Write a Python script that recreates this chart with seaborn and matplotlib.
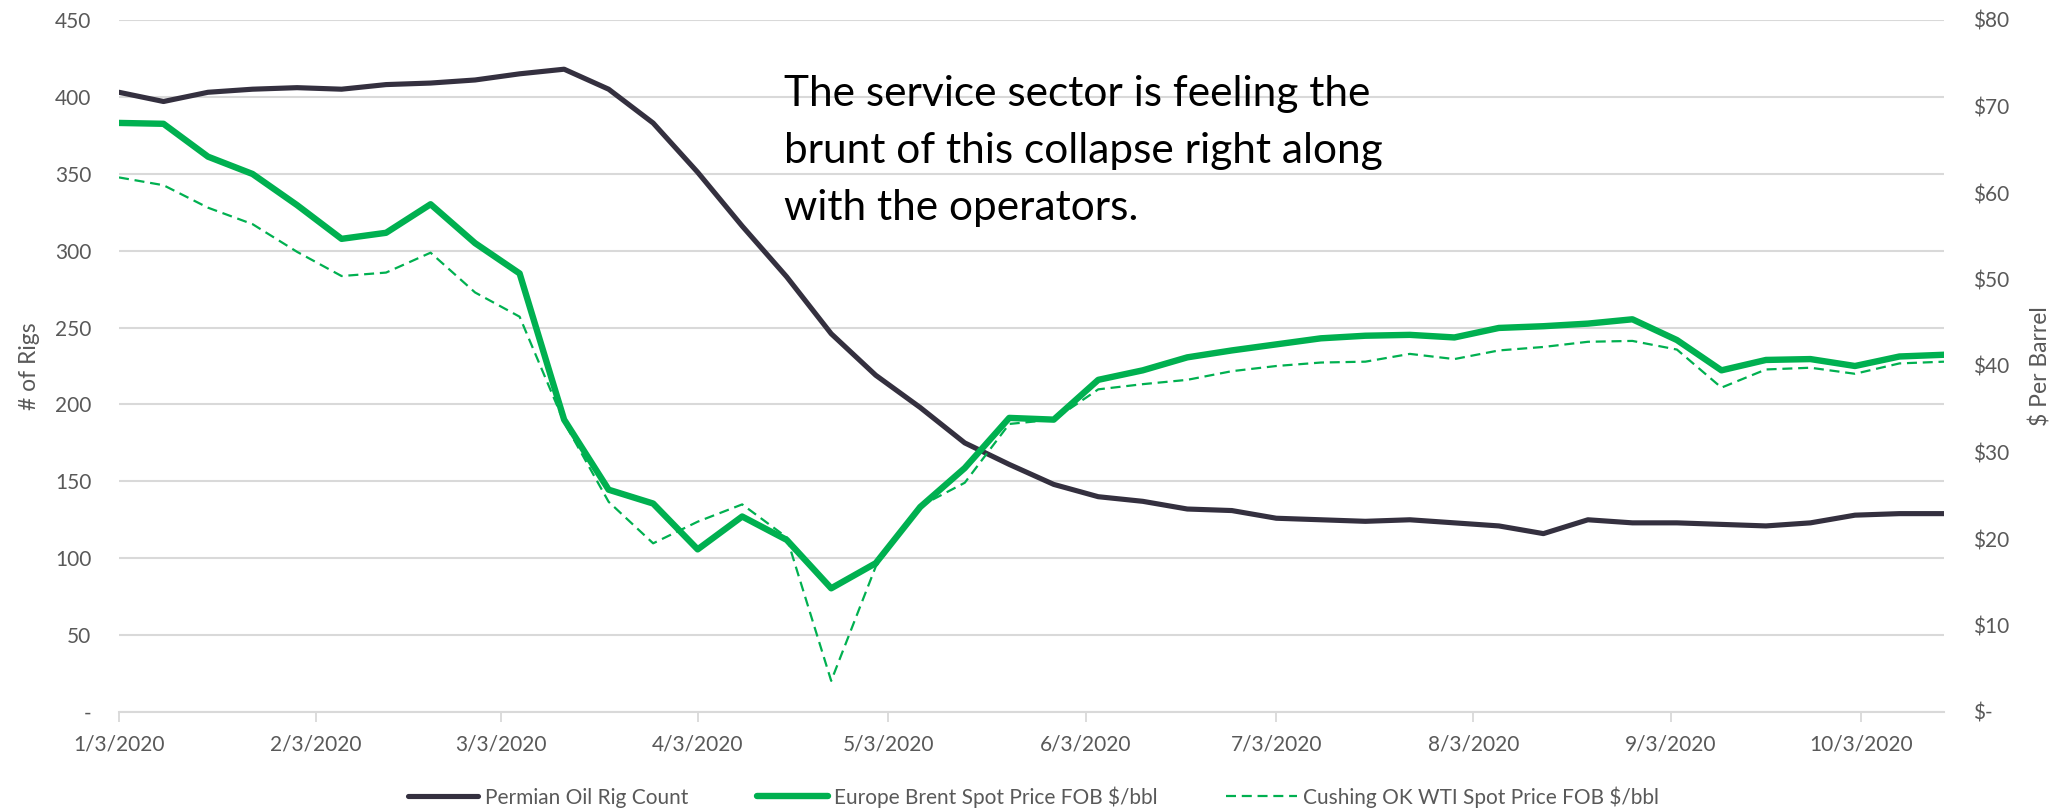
import matplotlib
matplotlib.use("Agg")
import matplotlib.pyplot as plt
import matplotlib.dates as mdates
from matplotlib.ticker import FixedLocator, FuncFormatter
import seaborn as sns
import pandas as pd

# ---------------- data (weekly) ----------------
first_week = "2020-01-03"
rig_count = [403, 397, 403, 405, 406, 405, 408, 409, 411, 415,
             418, 405, 383, 351, 316, 283, 246, 219, 198, 175,
             161, 148, 140, 137, 132, 131, 126, 125, 124, 125,
             123, 121, 116, 125, 123, 123, 122, 121, 123, 128,
             129, 129]
brent = [68.1, 68.0, 64.2, 62.2, 58.6, 54.7, 55.4, 58.7, 54.2, 50.7,
         33.8, 25.7, 24.1, 18.8, 22.6, 19.9, 14.3, 17.2, 23.7, 28.2,
         34.0, 33.8, 38.4, 39.5, 41.0, 41.8, 42.5, 43.2, 43.5, 43.6,
         43.3, 44.4, 44.6, 44.9, 45.4, 43.0, 39.5, 40.7, 40.8, 40.0,
         41.1, 41.3]
wti = [61.8, 60.9, 58.3, 56.4, 53.2, 50.4, 50.8, 53.1, 48.5, 45.7,
       33.5, 24.3, 19.5, 22.0, 24.0, 20.2, 3.6, 16.8, 23.8, 26.5,
       33.3, 33.8, 37.3, 37.9, 38.4, 39.4, 40.0, 40.4, 40.5, 41.4,
       40.8, 41.8, 42.2, 42.8, 42.9, 41.9, 37.5, 39.6, 39.8, 39.1,
       40.3, 40.5]
x_tick_labels = ["1/3/2020", "2/3/2020", "3/3/2020", "4/3/2020", "5/3/2020",
                 "6/3/2020", "7/3/2020", "8/3/2020", "9/3/2020", "10/3/2020"]
rig_ticks = [0, 50, 100, 150, 200, 250, 300, 350, 400, 450]
price_ticks = [0, 10, 20, 30, 40, 50, 60, 70, 80]
series_names = ["Permian Oil Rig Count",
                "Europe Brent Spot Price FOB $/bbl",
                "Cushing OK WTI Spot Price FOB $/bbl"]
annotation_lines = ["The service sector is feeling the",
                    "brunt of this collapse right along",
                    "with the operators."]

dates = pd.date_range(first_week, periods=len(rig_count), freq="7D")
df = pd.DataFrame({"date": dates, "rigs": rig_count,
                   "brent": brent, "wti": wti})

# ---------------- style ----------------
sns.set_theme(style="white")
plt.rcParams["font.family"] = ["Lato", "DejaVu Sans"]

DARK = "#34303F"
GREEN = "#00B050"
GRID = "#D9D9D9"
TXT = "#595959"
FS = 15

fig = plt.figure(figsize=(20.67, 8.10), dpi=100)
ax = fig.add_axes([119 / 2067, 1 - 712 / 810, (1944 - 119) / 2067, (712 - 20) / 810])
ax2 = ax.twinx()

sns.lineplot(data=df, x="date", y="rigs", ax=ax, color=DARK,
             linewidth=3.7, legend=False)
sns.lineplot(data=df, x="date", y="brent", ax=ax2, color=GREEN,
             linewidth=4.6, legend=False)
sns.lineplot(data=df, x="date", y="wti", ax=ax2, color=GREEN,
             linewidth=1.6, legend=False)
l_rig = ax.get_lines()[0]
l_brent, l_wti = ax2.get_lines()[0], ax2.get_lines()[1]
l_wti.set_dashes((4.5, 2.6))
for ln in (l_rig, l_brent):
    ln.set_solid_capstyle("round")

# axes limits
ax.set_xlim(dates[0], dates[-1])
ax.set_ylim(rig_ticks[0], rig_ticks[-1])
ax2.set_ylim(price_ticks[0], price_ticks[-1])

# x ticks
tick_dates = pd.to_datetime(x_tick_labels, format="%m/%d/%Y")
ax.xaxis.set_major_locator(FixedLocator(mdates.date2num(tick_dates)))
ax.set_xticklabels(x_tick_labels)
ax.tick_params(axis="x", length=7, width=1.3, color=GRID, direction="out",
               pad=9, labelsize=FS, labelcolor=TXT, bottom=True)

# left y
ax.yaxis.set_major_locator(FixedLocator(rig_ticks))
ax.yaxis.set_major_formatter(FuncFormatter(lambda v, p: "-" if v == 0 else f"{int(v)}"))
ax.tick_params(axis="y", length=0, pad=20, labelsize=FS, labelcolor=TXT)
ax.grid(axis="y", color=GRID, linewidth=1.5)
ax.grid(axis="x", visible=False)

# right y
ax2.yaxis.set_major_locator(FixedLocator(price_ticks))
ax2.yaxis.set_major_formatter(FuncFormatter(lambda v, p: "$-" if v == 0 else f"${int(v)}"))
ax2.tick_params(axis="y", length=0, pad=21, labelsize=FS, labelcolor=TXT)
ax2.grid(False)

for a in (ax, ax2):
    for s in ("top", "left", "right", "bottom"):
        a.spines[s].set_visible(False)
ax.spines["bottom"].set_visible(True)
ax.spines["bottom"].set_color(GRID)
ax.spines["bottom"].set_linewidth(1.5)

ax.set_xlabel("")
ax.set_ylabel("# of Rigs", fontsize=16.5, color=TXT)
ax2.set_ylabel("$ Per Barrel", fontsize=16.5, color=TXT, rotation=90)
ax.yaxis.set_label_coords((40 - 119) / 1825, 0.5)
ax2.yaxis.set_label_coords((2030 - 119) / 1825, 0.5)

# annotation
for k, line in enumerate(annotation_lines):
    fig.text(784 / 2067, 1 - (106 + 57 * k) / 810, line, fontsize=30.5,
             color="black", ha="left", va="baseline")

# legend
fig.legend([l_rig, l_brent, l_wti], series_names, loc="center",
           bbox_to_anchor=(0.5, 1 - 797 / 810), ncol=3, frameon=False,
           fontsize=FS, labelcolor=TXT, handlelength=3.4,
           handletextpad=0.3, columnspacing=3.3)

fig.savefig("out.png", dpi=100)
